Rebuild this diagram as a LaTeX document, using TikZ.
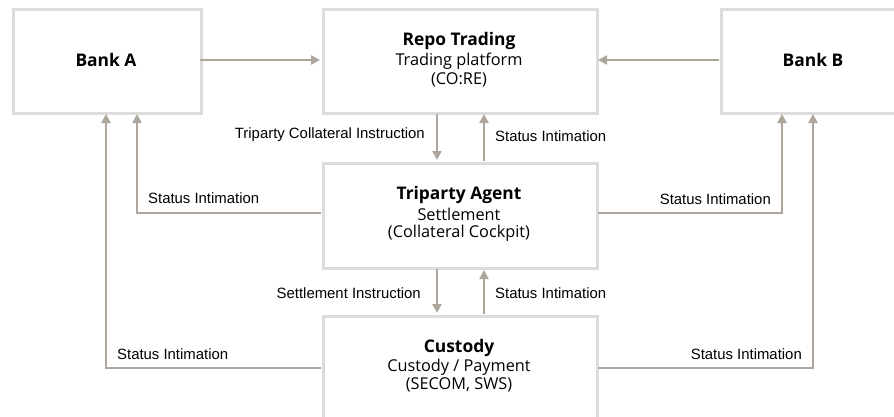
\documentclass[tikz,border=0pt]{standalone}
\usepackage{fontspec}
\setmainfont{Open Sans}
\newfontfamily\lblfont{Liberation Sans}
\usetikzlibrary{arrows.meta}
\definecolor{boxgray}{HTML}{DCDCDC}
\definecolor{arrowc}{HTML}{AEA69C}
\begin{document}
\begin{tikzpicture}[x=1pt,y=-1pt,
  box/.style={draw=boxgray, line width=3pt, fill=white, inner sep=0pt, anchor=north west},
  conn/.style={draw=arrowc, line width=2.8pt, -{Triangle[length=9pt,width=9pt]}},
  lbl/.style={font=\lblfont\fontsize{14.9}{16}\selectfont, text=black, inner sep=0pt},
  btitle/.style={font=\bfseries\fontsize{17.4}{19}\selectfont},
  bsub/.style={font=\fontsize{16.3}{19}\selectfont}
]
\useasboundingbox (0,0) rectangle (894,416);
\begin{scope}
\clip (0,0) rectangle (894,416);
% boxes
\node[box, minimum width=188pt, minimum height=104pt] (bankA) at (12,8) {};
\node[box, minimum width=274pt, minimum height=104pt] (repo) at (322,8) {};
\node[box, minimum width=188pt, minimum height=104pt] (bankB) at (720,8) {};
\node[box, minimum width=274pt, minimum height=105pt] (tri) at (322,162) {};
\node[box, minimum width=274pt, minimum height=106pt] (cus) at (322,315) {};
\end{scope}
% texts
\node[btitle] (tA) at (106,60) {Bank A};
\node[btitle] (tB) at (813,60) {Bank B};
\node[btitle] (t1) at (459,41) {Repo Trading};
\node[bsub] (t2) at (459,61) {Trading platform};
\node[bsub] (t3) at (459,80) {(CO:RE)};
\node[btitle] (u1) at (459,195) {Triparty Agent};
\node[bsub] (u2) at (459,214) {Settlement};
\node[bsub] (u3) at (459,233) {(Collateral Cockpit)};
\node[btitle] (v1) at (459,348) {Custody};
\node[bsub] (v2) at (459,367) {Custody / Payment};
\node[bsub] (v3) at (459,385) {(SECOM, SWS)};
% coordinates
\coordinate (a1) at (200,60);
\coordinate (a2) at (320,60);
\coordinate (b1) at (719,60);
\coordinate (b2) at (598,60);
\draw[conn] (a1) -- (a2);
\draw[conn] (b1) -- (b2);
% repo <-> tri
\coordinate (r1) at (437,113.5);
\coordinate (r2) at (437,160);
\coordinate (s1) at (484,160.5);
\coordinate (s2) at (484,114);
\draw[conn] (r1) -- (r2);
\draw[conn] (s1) -- (s2);
% tri <-> custody
\coordinate (r3) at (437,268.5);
\coordinate (r4) at (437,313);
\coordinate (s3) at (484,313.5);
\coordinate (s4) at (484,270);
\draw[conn] (r3) -- (r4);
\draw[conn] (s3) -- (s4);
% to bank A
\coordinate (ta) at (320.5,213);
\coordinate (ta2) at (137,114);
\draw[conn] (ta) -| (ta2);
\coordinate (ca) at (320.5,368);
\coordinate (ca2) at (106,114);
\draw[conn] (ca) -| (ca2);
% to bank B
\coordinate (tb) at (597.5,213);
\coordinate (tb2) at (782,114);
\draw[conn] (tb) -| (tb2);
\coordinate (cb) at (597.5,368);
\coordinate (cb2) at (813,114);
\draw[conn] (cb) -| (cb2);
% labels
\node[lbl, anchor=east] (l1) at (425,135) {Triparty Collateral Instruction};
\node[lbl, anchor=west] (l2) at (495,136) {Status Intimation};
\node[lbl, anchor=west] (l3) at (148,198) {Status Intimation};
\node[lbl, anchor=east] (l4) at (771,199) {Status Intimation};
\node[lbl, anchor=east] (l5) at (421,293) {Settlement Instruction};
\node[lbl, anchor=west] (l6) at (495,293) {Status Intimation};
\node[lbl, anchor=west] (l7) at (117,354) {Status Intimation};
\node[lbl, anchor=east] (l8) at (802,354) {Status Intimation};
\end{tikzpicture}
\end{document}
